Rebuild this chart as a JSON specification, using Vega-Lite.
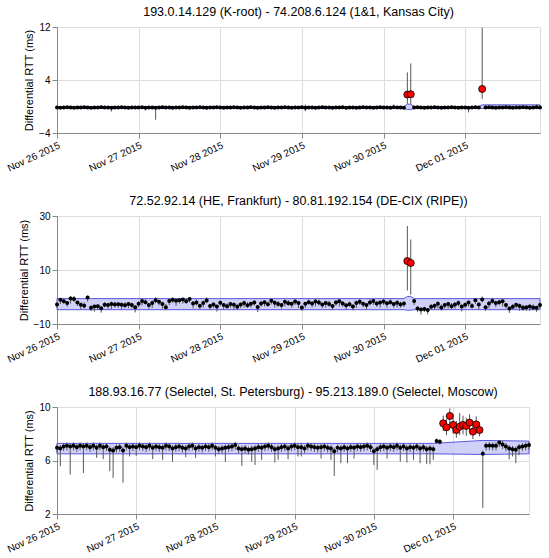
{
"datasets":{
"a1":[
{"t":"2015-11-30T07:00:00","m":1.8},
{"t":"2015-11-30T08:00:00","m":1.85},
{"t":"2015-12-01T05:00:00","m":2.65}],
"a2":[
{"t":"2015-11-30T07:00:00","m":13.3},
{"t":"2015-11-30T08:00:00","m":12.6}],
"a3":[
{"t":"2015-11-30T21:00:00","m":8.78},
{"t":"2015-11-30T22:00:00","m":8.48},
{"t":"2015-11-30T23:00:00","m":9.33},
{"t":"2015-12-01T00:00:00","m":8.66},
{"t":"2015-12-01T01:00:00","m":8.28},
{"t":"2015-12-01T02:00:00","m":8.53},
{"t":"2015-12-01T03:00:00","m":8.66},
{"t":"2015-12-01T04:00:00","m":8.58},
{"t":"2015-12-01T05:00:00","m":8.83},
{"t":"2015-12-01T06:00:00","m":8.16},
{"t":"2015-12-01T07:00:00","m":8.7},
{"t":"2015-12-01T08:00:00","m":8.28}],
"b1":[
{"t":"2015-11-26T00:00:00","lo":-0.3,"hi":0.0},
{"t":"2015-11-30T06:00:00","lo":-0.3,"hi":0.0},
{"t":"2015-11-30T07:00:00","lo":-0.45,"hi":0.35},
{"t":"2015-11-30T08:00:00","lo":-0.45,"hi":0.35},
{"t":"2015-11-30T09:00:00","lo":-0.3,"hi":0.0},
{"t":"2015-12-01T04:00:00","lo":-0.3,"hi":0.0},
{"t":"2015-12-01T05:00:00","lo":-0.3,"hi":0.25},
{"t":"2015-12-01T22:00:00","lo":-0.3,"hi":0.25}],
"b2":[
{"t":"2015-11-26T00:00:00","lo":-4.7,"hi":-0.6},
{"t":"2015-11-30T06:00:00","lo":-4.7,"hi":-0.6},
{"t":"2015-11-30T07:00:00","lo":-4.9,"hi":0.2},
{"t":"2015-11-30T08:00:00","lo":-4.9,"hi":0.2},
{"t":"2015-11-30T09:00:00","lo":-4.7,"hi":-0.6},
{"t":"2015-12-01T22:00:00","lo":-4.7,"hi":-0.6}],
"b3":[
{"t":"2015-11-26T00:00:00","lo":6.5,"hi":7.28},
{"t":"2015-11-30T18:00:00","lo":6.5,"hi":7.28},
{"t":"2015-12-01T09:00:00","lo":6.45,"hi":7.5},
{"t":"2015-12-01T23:00:00","lo":6.5,"hi":7.45}],
"d1":[
{"t":"2015-11-26T00:00:00","m":-0.15,"l":-0.3,"h":0},
{"t":"2015-11-26T01:00:00","m":-0.2,"l":-0.35,"h":-0.05},
{"t":"2015-11-26T02:00:00","m":-0.15,"l":-0.3,"h":0},
{"t":"2015-11-26T03:00:00","m":-0.1,"l":-0.25,"h":0.05},
{"t":"2015-11-26T04:00:00","m":-0.15,"l":-0.3,"h":0},
{"t":"2015-11-26T05:00:00","m":-0.2,"l":-0.35,"h":-0.05},
{"t":"2015-11-26T06:00:00","m":-0.15,"l":-0.3,"h":0},
{"t":"2015-11-26T07:00:00","m":-0.15,"l":-0.3,"h":0},
{"t":"2015-11-26T08:00:00","m":-0.1,"l":-0.25,"h":0.05},
{"t":"2015-11-26T09:00:00","m":-0.15,"l":-0.3,"h":0},
{"t":"2015-11-26T10:00:00","m":-0.2,"l":-0.35,"h":-0.05},
{"t":"2015-11-26T11:00:00","m":-0.15,"l":-0.3,"h":0},
{"t":"2015-11-26T12:00:00","m":-0.15,"l":-0.3,"h":0},
{"t":"2015-11-26T13:00:00","m":-0.1,"l":-0.25,"h":0.05},
{"t":"2015-11-26T14:00:00","m":-0.15,"l":-0.3,"h":0},
{"t":"2015-11-26T15:00:00","m":-0.15,"l":-0.3,"h":0},
{"t":"2015-11-26T16:00:00","m":-0.2,"l":-0.75,"h":-0.05},
{"t":"2015-11-26T17:00:00","m":-0.15,"l":-0.3,"h":0},
{"t":"2015-11-26T18:00:00","m":-0.15,"l":-0.3,"h":0},
{"t":"2015-11-26T19:00:00","m":-0.1,"l":-0.25,"h":0.05},
{"t":"2015-11-26T20:00:00","m":-0.15,"l":-0.3,"h":0},
{"t":"2015-11-26T21:00:00","m":-0.2,"l":-0.35,"h":-0.05},
{"t":"2015-11-26T22:00:00","m":-0.15,"l":-0.3,"h":0},
{"t":"2015-11-26T23:00:00","m":-0.15,"l":-0.3,"h":0},
{"t":"2015-11-27T00:00:00","m":-0.15,"l":-0.3,"h":0},
{"t":"2015-11-27T01:00:00","m":-0.1,"l":-0.25,"h":0.05},
{"t":"2015-11-27T02:00:00","m":-0.2,"l":-0.6,"h":-0.05},
{"t":"2015-11-27T03:00:00","m":-0.15,"l":-0.3,"h":0},
{"t":"2015-11-27T04:00:00","m":-0.15,"l":-0.3,"h":0},
{"t":"2015-11-27T05:00:00","m":-0.2,"l":-2.0,"h":-0.05},
{"t":"2015-11-27T06:00:00","m":-0.15,"l":-0.3,"h":0},
{"t":"2015-11-27T07:00:00","m":-0.1,"l":-0.25,"h":0.05},
{"t":"2015-11-27T08:00:00","m":-0.15,"l":-0.3,"h":0},
{"t":"2015-11-27T09:00:00","m":-0.15,"l":-0.3,"h":0},
{"t":"2015-11-27T10:00:00","m":-0.2,"l":-0.35,"h":-0.05},
{"t":"2015-11-27T11:00:00","m":-0.15,"l":-0.3,"h":0},
{"t":"2015-11-27T12:00:00","m":-0.15,"l":-0.3,"h":0},
{"t":"2015-11-27T13:00:00","m":-0.1,"l":-0.25,"h":0.05},
{"t":"2015-11-27T14:00:00","m":-0.15,"l":-0.3,"h":0},
{"t":"2015-11-27T15:00:00","m":-0.2,"l":-0.35,"h":-0.05},
{"t":"2015-11-27T16:00:00","m":-0.15,"l":-0.3,"h":0},
{"t":"2015-11-27T17:00:00","m":-0.15,"l":-0.3,"h":0},
{"t":"2015-11-27T18:00:00","m":-0.1,"l":-0.25,"h":0.05},
{"t":"2015-11-27T19:00:00","m":-0.15,"l":-0.3,"h":0},
{"t":"2015-11-27T20:00:00","m":-0.2,"l":-0.5,"h":-0.05},
{"t":"2015-11-27T21:00:00","m":-0.15,"l":-0.3,"h":0},
{"t":"2015-11-27T22:00:00","m":-0.15,"l":-0.3,"h":0},
{"t":"2015-11-27T23:00:00","m":-0.1,"l":-0.25,"h":0.05},
{"t":"2015-11-28T00:00:00","m":-0.15,"l":-0.3,"h":0},
{"t":"2015-11-28T01:00:00","m":-0.2,"l":-0.35,"h":-0.05},
{"t":"2015-11-28T02:00:00","m":-0.15,"l":-0.3,"h":0},
{"t":"2015-11-28T03:00:00","m":-0.15,"l":-0.3,"h":0},
{"t":"2015-11-28T04:00:00","m":-0.1,"l":-0.25,"h":0.05},
{"t":"2015-11-28T05:00:00","m":-0.15,"l":-0.3,"h":0},
{"t":"2015-11-28T06:00:00","m":-0.2,"l":-0.35,"h":-0.05},
{"t":"2015-11-28T07:00:00","m":-0.15,"l":-0.3,"h":0},
{"t":"2015-11-28T08:00:00","m":-0.15,"l":-0.3,"h":0},
{"t":"2015-11-28T09:00:00","m":-0.1,"l":-0.25,"h":0.05},
{"t":"2015-11-28T10:00:00","m":-0.15,"l":-0.3,"h":0},
{"t":"2015-11-28T11:00:00","m":-0.2,"l":-0.35,"h":-0.05},
{"t":"2015-11-28T12:00:00","m":-0.15,"l":-0.3,"h":0},
{"t":"2015-11-28T13:00:00","m":-0.15,"l":-0.3,"h":0},
{"t":"2015-11-28T14:00:00","m":-0.1,"l":-0.25,"h":0.05},
{"t":"2015-11-28T15:00:00","m":-0.15,"l":-0.3,"h":0},
{"t":"2015-11-28T16:00:00","m":-0.2,"l":-0.35,"h":-0.05},
{"t":"2015-11-28T17:00:00","m":-0.15,"l":-0.3,"h":0},
{"t":"2015-11-28T18:00:00","m":-0.15,"l":-0.3,"h":0},
{"t":"2015-11-28T19:00:00","m":-0.1,"l":-0.25,"h":0.05},
{"t":"2015-11-28T20:00:00","m":-0.15,"l":-0.3,"h":0},
{"t":"2015-11-28T21:00:00","m":-0.2,"l":-0.35,"h":-0.05},
{"t":"2015-11-28T22:00:00","m":-0.15,"l":-0.3,"h":0},
{"t":"2015-11-28T23:00:00","m":-0.15,"l":-0.3,"h":0},
{"t":"2015-11-29T00:00:00","m":-0.1,"l":-0.25,"h":0.05},
{"t":"2015-11-29T01:00:00","m":-0.2,"l":-0.7,"h":0.3},
{"t":"2015-11-29T02:00:00","m":-0.15,"l":-0.3,"h":0},
{"t":"2015-11-29T03:00:00","m":-0.15,"l":-0.3,"h":0},
{"t":"2015-11-29T04:00:00","m":-0.2,"l":-0.35,"h":-0.05},
{"t":"2015-11-29T05:00:00","m":-0.15,"l":-0.3,"h":0},
{"t":"2015-11-29T06:00:00","m":-0.1,"l":-0.25,"h":0.05},
{"t":"2015-11-29T07:00:00","m":-0.15,"l":-0.3,"h":0},
{"t":"2015-11-29T08:00:00","m":-0.15,"l":-0.3,"h":0},
{"t":"2015-11-29T09:00:00","m":-0.2,"l":-0.35,"h":-0.05},
{"t":"2015-11-29T10:00:00","m":-0.15,"l":-0.3,"h":0},
{"t":"2015-11-29T11:00:00","m":-0.15,"l":-0.3,"h":0},
{"t":"2015-11-29T12:00:00","m":-0.1,"l":-0.25,"h":0.05},
{"t":"2015-11-29T13:00:00","m":-0.2,"l":-0.5,"h":-0.05},
{"t":"2015-11-29T14:00:00","m":-0.15,"l":-0.3,"h":0},
{"t":"2015-11-29T15:00:00","m":-0.15,"l":-0.3,"h":0},
{"t":"2015-11-29T16:00:00","m":-0.2,"l":-0.35,"h":-0.05},
{"t":"2015-11-29T17:00:00","m":-0.15,"l":-0.3,"h":0},
{"t":"2015-11-29T18:00:00","m":-0.1,"l":-0.25,"h":0.05},
{"t":"2015-11-29T19:00:00","m":-0.15,"l":-0.3,"h":0},
{"t":"2015-11-29T20:00:00","m":-0.15,"l":-0.3,"h":0},
{"t":"2015-11-29T21:00:00","m":-0.2,"l":-0.35,"h":-0.05},
{"t":"2015-11-29T22:00:00","m":-0.15,"l":-0.3,"h":0},
{"t":"2015-11-29T23:00:00","m":-0.1,"l":-0.25,"h":0.05},
{"t":"2015-11-30T00:00:00","m":-0.15,"l":-0.3,"h":0},
{"t":"2015-11-30T01:00:00","m":-0.15,"l":-0.3,"h":0},
{"t":"2015-11-30T02:00:00","m":-0.2,"l":-0.35,"h":-0.05},
{"t":"2015-11-30T03:00:00","m":-0.1,"l":-0.25,"h":0.3},
{"t":"2015-11-30T04:00:00","m":-0.15,"l":-0.3,"h":0},
{"t":"2015-11-30T05:00:00","m":-0.15,"l":-0.3,"h":0},
{"t":"2015-11-30T06:00:00","m":-0.2,"l":-0.35,"h":-0.05},
{"t":"2015-11-30T07:00:00","m":1.8,"l":0.4,"h":5.15},
{"t":"2015-11-30T08:00:00","m":1.85,"l":0.4,"h":6.5},
{"t":"2015-11-30T09:00:00","m":-0.15,"l":-0.3,"h":0},
{"t":"2015-11-30T10:00:00","m":-0.1,"l":-0.25,"h":0.05},
{"t":"2015-11-30T11:00:00","m":-0.15,"l":-0.3,"h":0},
{"t":"2015-11-30T12:00:00","m":-0.2,"l":-0.35,"h":-0.05},
{"t":"2015-11-30T13:00:00","m":-0.15,"l":-0.3,"h":0},
{"t":"2015-11-30T14:00:00","m":-0.15,"l":-0.3,"h":0},
{"t":"2015-11-30T15:00:00","m":-0.1,"l":-0.25,"h":0.05},
{"t":"2015-11-30T16:00:00","m":-0.15,"l":-0.3,"h":0},
{"t":"2015-11-30T17:00:00","m":-0.2,"l":-0.35,"h":-0.05},
{"t":"2015-11-30T18:00:00","m":-0.15,"l":-0.3,"h":0},
{"t":"2015-11-30T19:00:00","m":-0.15,"l":-0.3,"h":0},
{"t":"2015-11-30T20:00:00","m":-0.1,"l":-0.25,"h":0.05},
{"t":"2015-11-30T21:00:00","m":-0.15,"l":-0.3,"h":0},
{"t":"2015-11-30T22:00:00","m":-0.2,"l":-0.35,"h":-0.05},
{"t":"2015-11-30T23:00:00","m":-0.15,"l":-0.3,"h":0},
{"t":"2015-12-01T00:00:00","m":-0.15,"l":-0.3,"h":0},
{"t":"2015-12-01T01:00:00","m":-0.2,"l":-0.9,"h":-0.05},
{"t":"2015-12-01T02:00:00","m":-0.15,"l":-0.3,"h":0},
{"t":"2015-12-01T03:00:00","m":-0.1,"l":-0.25,"h":0.05},
{"t":"2015-12-01T04:00:00","m":-0.15,"l":-0.3,"h":0},
{"t":"2015-12-01T05:00:00","m":2.65,"l":1.15,"h":11.9},
{"t":"2015-12-01T06:00:00","m":-0.15,"l":-0.3,"h":0},
{"t":"2015-12-01T07:00:00","m":-0.1,"l":-0.25,"h":0.05},
{"t":"2015-12-01T08:00:00","m":-0.15,"l":-0.3,"h":0},
{"t":"2015-12-01T09:00:00","m":-0.2,"l":-0.35,"h":-0.05},
{"t":"2015-12-01T10:00:00","m":-0.15,"l":-0.3,"h":0},
{"t":"2015-12-01T11:00:00","m":-0.15,"l":-0.3,"h":0},
{"t":"2015-12-01T12:00:00","m":-0.1,"l":-0.25,"h":0.05},
{"t":"2015-12-01T13:00:00","m":-0.15,"l":-0.3,"h":0},
{"t":"2015-12-01T14:00:00","m":-0.2,"l":-0.35,"h":-0.05},
{"t":"2015-12-01T15:00:00","m":-0.15,"l":-0.3,"h":0},
{"t":"2015-12-01T16:00:00","m":-0.15,"l":-0.3,"h":0},
{"t":"2015-12-01T17:00:00","m":-0.1,"l":-0.25,"h":0.05},
{"t":"2015-12-01T18:00:00","m":-0.15,"l":-0.3,"h":0},
{"t":"2015-12-01T19:00:00","m":-0.2,"l":-0.35,"h":-0.05},
{"t":"2015-12-01T20:00:00","m":-0.15,"l":-0.3,"h":0},
{"t":"2015-12-01T21:00:00","m":-0.1,"l":-0.25,"h":0.3},
{"t":"2015-12-01T22:00:00","m":-0.15,"l":-0.3,"h":0}],
"d2":[
{"t":"2015-11-26T00:00:00","m":-2.8,"l":-4.0,"h":-2.0},
{"t":"2015-11-26T01:00:00","m":-1.0,"l":-2.6,"h":-0.4},
{"t":"2015-11-26T02:00:00","m":-1.6,"l":-2.5,"h":-0.6},
{"t":"2015-11-26T03:00:00","m":-2.2,"l":-3.6,"h":-1.5},
{"t":"2015-11-26T04:00:00","m":-0.6,"l":-2.4,"h":0.3},
{"t":"2015-11-26T05:00:00","m":-0.7,"l":-1.8,"h":0.4},
{"t":"2015-11-26T06:00:00","m":-2.0,"l":-3.3,"h":-1.4},
{"t":"2015-11-26T07:00:00","m":-2.9,"l":-4.6,"h":-2.1},
{"t":"2015-11-26T08:00:00","m":-3.2,"l":-4.2,"h":-2.0},
{"t":"2015-11-26T09:00:00","m":-0.2,"l":-1.7,"h":0.5},
{"t":"2015-11-26T10:00:00","m":-4.0,"l":-5.2,"h":-3.1},
{"t":"2015-11-26T11:00:00","m":-3.5,"l":-5.4,"h":-2.9},
{"t":"2015-11-26T12:00:00","m":-3.4,"l":-4.6,"h":-2.6},
{"t":"2015-11-26T13:00:00","m":-4.2,"l":-5.8,"h":-3.6},
{"t":"2015-11-26T14:00:00","m":-2.9,"l":-3.8,"h":-1.9},
{"t":"2015-11-26T15:00:00","m":-3.0,"l":-4.4,"h":-2.3},
{"t":"2015-11-26T16:00:00","m":-2.6,"l":-4.4,"h":-1.7},
{"t":"2015-11-26T17:00:00","m":-2.8,"l":-3.9,"h":-1.7},
{"t":"2015-11-26T18:00:00","m":-2.7,"l":-4.0,"h":-2.1},
{"t":"2015-11-26T19:00:00","m":-2.9,"l":-4.6,"h":-2.1},
{"t":"2015-11-26T20:00:00","m":-3.1,"l":-4.1,"h":-1.9},
{"t":"2015-11-26T21:00:00","m":-2.6,"l":-4.1,"h":-1.9},
{"t":"2015-11-26T22:00:00","m":-3.0,"l":-4.2,"h":-2.1},
{"t":"2015-11-26T23:00:00","m":-3.8,"l":-5.7,"h":-3.2},
{"t":"2015-11-27T00:00:00","m":-2.5,"l":-3.7,"h":-1.7},
{"t":"2015-11-27T01:00:00","m":-1.5,"l":-3.1,"h":-0.9},
{"t":"2015-11-27T02:00:00","m":-1.9,"l":-2.8,"h":-0.9},
{"t":"2015-11-27T03:00:00","m":-3.0,"l":-4.4,"h":-2.3},
{"t":"2015-11-27T04:00:00","m":-2.2,"l":-4.0,"h":-1.3},
{"t":"2015-11-27T05:00:00","m":-1.2,"l":-2.3,"h":-0.1},
{"t":"2015-11-27T06:00:00","m":-1.8,"l":-3.1,"h":-1.2},
{"t":"2015-11-27T07:00:00","m":-2.6,"l":-4.3,"h":-1.8},
{"t":"2015-11-27T08:00:00","m":-3.8,"l":-4.8,"h":-2.6},
{"t":"2015-11-27T09:00:00","m":-1.5,"l":-3.0,"h":-0.8},
{"t":"2015-11-27T10:00:00","m":-1.0,"l":-2.2,"h":-0.1},
{"t":"2015-11-27T11:00:00","m":-1.4,"l":-3.3,"h":-0.8},
{"t":"2015-11-27T12:00:00","m":-1.2,"l":-2.4,"h":-0.4},
{"t":"2015-11-27T13:00:00","m":-0.9,"l":-2.5,"h":-0.3},
{"t":"2015-11-27T14:00:00","m":-1.6,"l":-2.5,"h":-0.6},
{"t":"2015-11-27T15:00:00","m":-0.7,"l":-2.1,"h":0.0},
{"t":"2015-11-27T16:00:00","m":-2.4,"l":-4.2,"h":-1.5},
{"t":"2015-11-27T17:00:00","m":-2.0,"l":-3.1,"h":-0.9},
{"t":"2015-11-27T18:00:00","m":-3.2,"l":-4.5,"h":-2.6},
{"t":"2015-11-27T19:00:00","m":-2.2,"l":-3.9,"h":-1.4},
{"t":"2015-11-27T20:00:00","m":-1.3,"l":-2.3,"h":-0.1},
{"t":"2015-11-27T21:00:00","m":-3.3,"l":-4.8,"h":-2.6},
{"t":"2015-11-27T22:00:00","m":-2.8,"l":-4.0,"h":-1.9},
{"t":"2015-11-27T23:00:00","m":-3.5,"l":-5.4,"h":-2.9},
{"t":"2015-11-28T00:00:00","m":-2.1,"l":-3.3,"h":-1.3},
{"t":"2015-11-28T01:00:00","m":-3.0,"l":-4.6,"h":-2.4},
{"t":"2015-11-28T02:00:00","m":-3.4,"l":-4.3,"h":-2.4},
{"t":"2015-11-28T03:00:00","m":-2.6,"l":-4.0,"h":-1.9},
{"t":"2015-11-28T04:00:00","m":-2.9,"l":-4.7,"h":-2.0},
{"t":"2015-11-28T05:00:00","m":-3.6,"l":-4.7,"h":-2.5},
{"t":"2015-11-28T06:00:00","m":-2.8,"l":-4.1,"h":-2.2},
{"t":"2015-11-28T07:00:00","m":-2.2,"l":-3.9,"h":-1.4},
{"t":"2015-11-28T08:00:00","m":-3.1,"l":-4.1,"h":-1.9},
{"t":"2015-11-28T09:00:00","m":-2.5,"l":-4.0,"h":-1.8},
{"t":"2015-11-28T10:00:00","m":-2.0,"l":-3.2,"h":-1.1},
{"t":"2015-11-28T11:00:00","m":-3.7,"l":-5.6,"h":-3.1},
{"t":"2015-11-28T12:00:00","m":-2.4,"l":-3.6,"h":-1.6},
{"t":"2015-11-28T13:00:00","m":-1.9,"l":-3.5,"h":-1.3},
{"t":"2015-11-28T14:00:00","m":-2.7,"l":-3.6,"h":-1.7},
{"t":"2015-11-28T15:00:00","m":-1.4,"l":-2.8,"h":-0.7},
{"t":"2015-11-28T16:00:00","m":-2.1,"l":-3.9,"h":-1.2},
{"t":"2015-11-28T17:00:00","m":-2.6,"l":-3.7,"h":-1.5},
{"t":"2015-11-28T18:00:00","m":-3.0,"l":-4.3,"h":-2.4},
{"t":"2015-11-28T19:00:00","m":-1.8,"l":-3.5,"h":-1.0},
{"t":"2015-11-28T20:00:00","m":-2.3,"l":-3.3,"h":-1.1},
{"t":"2015-11-28T21:00:00","m":-2.5,"l":-4.0,"h":-1.8},
{"t":"2015-11-28T22:00:00","m":-1.7,"l":-2.9,"h":-0.8},
{"t":"2015-11-28T23:00:00","m":-2.2,"l":-4.1,"h":-1.6},
{"t":"2015-11-29T00:00:00","m":-3.9,"l":-5.1,"h":-3.1},
{"t":"2015-11-29T01:00:00","m":-2.5,"l":-4.1,"h":-1.9},
{"t":"2015-11-29T02:00:00","m":-1.9,"l":-2.8,"h":-0.9},
{"t":"2015-11-29T03:00:00","m":-2.4,"l":-3.8,"h":-1.7},
{"t":"2015-11-29T04:00:00","m":-1.7,"l":-3.5,"h":-0.8},
{"t":"2015-11-29T05:00:00","m":-2.0,"l":-3.1,"h":-0.9},
{"t":"2015-11-29T06:00:00","m":-2.8,"l":-4.1,"h":-2.2},
{"t":"2015-11-29T07:00:00","m":-2.2,"l":-3.9,"h":-1.4},
{"t":"2015-11-29T08:00:00","m":-2.6,"l":-3.6,"h":-1.4},
{"t":"2015-11-29T09:00:00","m":-3.3,"l":-4.8,"h":-2.6},
{"t":"2015-11-29T10:00:00","m":-2.0,"l":-3.2,"h":-1.1},
{"t":"2015-11-29T11:00:00","m":-1.6,"l":-3.5,"h":-1.0},
{"t":"2015-11-29T12:00:00","m":-2.4,"l":-3.6,"h":-1.6},
{"t":"2015-11-29T13:00:00","m":-3.1,"l":-4.7,"h":-2.5},
{"t":"2015-11-29T14:00:00","m":-2.7,"l":-3.6,"h":-1.7},
{"t":"2015-11-29T15:00:00","m":-3.5,"l":-4.9,"h":-2.8},
{"t":"2015-11-29T16:00:00","m":-2.2,"l":-4.0,"h":-1.3},
{"t":"2015-11-29T17:00:00","m":-1.8,"l":-2.9,"h":-0.7},
{"t":"2015-11-29T18:00:00","m":-2.5,"l":-3.8,"h":-1.9},
{"t":"2015-11-29T19:00:00","m":-3.0,"l":-4.7,"h":-2.2},
{"t":"2015-11-29T20:00:00","m":-2.0,"l":-3.0,"h":-0.8},
{"t":"2015-11-29T21:00:00","m":-1.5,"l":-3.0,"h":-0.8},
{"t":"2015-11-29T22:00:00","m":-2.4,"l":-3.6,"h":-1.5},
{"t":"2015-11-29T23:00:00","m":-2.0,"l":-3.9,"h":-1.4},
{"t":"2015-11-30T00:00:00","m":-1.7,"l":-2.9,"h":-0.9},
{"t":"2015-11-30T01:00:00","m":-2.3,"l":-3.9,"h":-1.7},
{"t":"2015-11-30T02:00:00","m":-1.9,"l":-2.8,"h":-0.9},
{"t":"2015-11-30T03:00:00","m":-2.6,"l":-4.0,"h":-1.9},
{"t":"2015-11-30T04:00:00","m":-2.1,"l":-3.9,"h":-1.2},
{"t":"2015-11-30T05:00:00","m":-2.8,"l":-3.9,"h":-1.7},
{"t":"2015-11-30T06:00:00","m":-2.4,"l":-3.7,"h":-1.8},
{"t":"2015-11-30T07:00:00","m":13.3,"l":2.4,"h":26.3},
{"t":"2015-11-30T08:00:00","m":12.6,"l":0.9,"h":21.3},
{"t":"2015-11-30T09:00:00","m":-1.5,"l":-3.0,"h":-0.8},
{"t":"2015-11-30T10:00:00","m":-4.3,"l":-5.5,"h":-3.4},
{"t":"2015-11-30T11:00:00","m":-4.6,"l":-6.5,"h":-4.0},
{"t":"2015-11-30T12:00:00","m":-4.4,"l":-5.6,"h":-3.6},
{"t":"2015-11-30T13:00:00","m":-4.8,"l":-6.4,"h":-4.2},
{"t":"2015-11-30T14:00:00","m":-3.6,"l":-4.5,"h":-2.6},
{"t":"2015-11-30T15:00:00","m":-3.2,"l":-4.6,"h":-2.5},
{"t":"2015-11-30T16:00:00","m":-2.5,"l":-4.3,"h":-1.6},
{"t":"2015-11-30T17:00:00","m":-3.9,"l":-5.0,"h":-2.8},
{"t":"2015-11-30T18:00:00","m":-3.0,"l":-4.3,"h":-2.4},
{"t":"2015-11-30T19:00:00","m":-2.6,"l":-4.3,"h":-1.8},
{"t":"2015-11-30T20:00:00","m":-3.4,"l":-4.4,"h":-2.2},
{"t":"2015-11-30T21:00:00","m":-2.8,"l":-4.3,"h":-2.1},
{"t":"2015-11-30T22:00:00","m":-2.2,"l":-3.4,"h":-1.3},
{"t":"2015-11-30T23:00:00","m":-3.5,"l":-5.4,"h":-2.9},
{"t":"2015-12-01T00:00:00","m":-2.9,"l":-4.1,"h":-2.1},
{"t":"2015-12-01T01:00:00","m":-2.0,"l":-3.6,"h":-1.4},
{"t":"2015-12-01T02:00:00","m":-3.3,"l":-4.2,"h":-2.3},
{"t":"2015-12-01T03:00:00","m":-1.2,"l":-2.6,"h":-0.5},
{"t":"2015-12-01T04:00:00","m":-2.8,"l":-4.6,"h":-1.9},
{"t":"2015-12-01T05:00:00","m":-0.9,"l":-2.0,"h":0.2},
{"t":"2015-12-01T06:00:00","m":-3.8,"l":-5.1,"h":-3.2},
{"t":"2015-12-01T07:00:00","m":-2.4,"l":-4.1,"h":-1.6},
{"t":"2015-12-01T08:00:00","m":-1.5,"l":-2.5,"h":-0.3},
{"t":"2015-12-01T09:00:00","m":-2.2,"l":-3.7,"h":-1.5},
{"t":"2015-12-01T10:00:00","m":-1.9,"l":-3.1,"h":-1.0},
{"t":"2015-12-01T11:00:00","m":-1.6,"l":-3.5,"h":-1.0},
{"t":"2015-12-01T12:00:00","m":-3.0,"l":-4.2,"h":-2.2},
{"t":"2015-12-01T13:00:00","m":-4.3,"l":-5.9,"h":-3.7},
{"t":"2015-12-01T14:00:00","m":-3.6,"l":-4.5,"h":-2.6},
{"t":"2015-12-01T15:00:00","m":-2.9,"l":-4.3,"h":-2.2},
{"t":"2015-12-01T16:00:00","m":-3.3,"l":-5.1,"h":-2.4},
{"t":"2015-12-01T17:00:00","m":-4.0,"l":-5.1,"h":-2.9},
{"t":"2015-12-01T18:00:00","m":-3.8,"l":-5.1,"h":-3.2},
{"t":"2015-12-01T19:00:00","m":-3.5,"l":-5.2,"h":-2.7},
{"t":"2015-12-01T20:00:00","m":-3.9,"l":-4.9,"h":-2.7},
{"t":"2015-12-01T21:00:00","m":-4.0,"l":-5.5,"h":-3.3},
{"t":"2015-12-01T22:00:00","m":-3.0,"l":-4.2,"h":-2.1}],
"d3":[
{"t":"2015-11-26T00:00:00","m":6.95,"l":6.6,"h":7.2},
{"t":"2015-11-26T01:00:00","m":6.9,"l":5.57,"h":7.15},
{"t":"2015-11-26T02:00:00","m":7.05,"l":6.7,"h":7.3},
{"t":"2015-11-26T03:00:00","m":7.1,"l":6.75,"h":7.35},
{"t":"2015-11-26T04:00:00","m":7.05,"l":4.95,"h":7.3},
{"t":"2015-11-26T05:00:00","m":7.1,"l":6.75,"h":7.35},
{"t":"2015-11-26T06:00:00","m":7.0,"l":6.65,"h":7.25},
{"t":"2015-11-26T07:00:00","m":7.1,"l":6.75,"h":7.35},
{"t":"2015-11-26T08:00:00","m":7.05,"l":5.07,"h":7.3},
{"t":"2015-11-26T09:00:00","m":7.1,"l":6.75,"h":7.35},
{"t":"2015-11-26T10:00:00","m":7.0,"l":6.65,"h":7.25},
{"t":"2015-11-26T11:00:00","m":7.1,"l":6.75,"h":7.35},
{"t":"2015-11-26T12:00:00","m":6.95,"l":6.2,"h":7.2},
{"t":"2015-11-26T13:00:00","m":7.1,"l":6.75,"h":7.35},
{"t":"2015-11-26T14:00:00","m":7.0,"l":6.1,"h":7.25},
{"t":"2015-11-26T15:00:00","m":7.05,"l":6.7,"h":7.3},
{"t":"2015-11-26T16:00:00","m":6.8,"l":5.2,"h":7.05},
{"t":"2015-11-26T17:00:00","m":6.75,"l":4.7,"h":7.0},
{"t":"2015-11-26T18:00:00","m":6.95,"l":6.6,"h":7.2},
{"t":"2015-11-26T19:00:00","m":7.0,"l":6.65,"h":7.25},
{"t":"2015-11-26T20:00:00","m":6.75,"l":4.33,"h":7.0},
{"t":"2015-11-26T21:00:00","m":7.1,"l":6.75,"h":7.35},
{"t":"2015-11-26T22:00:00","m":7.0,"l":6.3,"h":7.25},
{"t":"2015-11-26T23:00:00","m":7.05,"l":6.7,"h":7.3},
{"t":"2015-11-27T00:00:00","m":7.0,"l":6.35,"h":7.25},
{"t":"2015-11-27T01:00:00","m":7.1,"l":6.75,"h":7.35},
{"t":"2015-11-27T02:00:00","m":7.05,"l":6.7,"h":7.3},
{"t":"2015-11-27T03:00:00","m":7.0,"l":6.65,"h":7.25},
{"t":"2015-11-27T04:00:00","m":7.1,"l":6.75,"h":7.35},
{"t":"2015-11-27T05:00:00","m":6.95,"l":6.1,"h":7.2},
{"t":"2015-11-27T06:00:00","m":7.05,"l":6.7,"h":7.3},
{"t":"2015-11-27T07:00:00","m":7.0,"l":6.65,"h":7.25},
{"t":"2015-11-27T08:00:00","m":6.95,"l":6.05,"h":7.2},
{"t":"2015-11-27T09:00:00","m":7.1,"l":6.75,"h":7.35},
{"t":"2015-11-27T10:00:00","m":7.05,"l":6.7,"h":7.3},
{"t":"2015-11-27T11:00:00","m":6.9,"l":5.9,"h":7.15},
{"t":"2015-11-27T12:00:00","m":7.0,"l":6.65,"h":7.25},
{"t":"2015-11-27T13:00:00","m":7.05,"l":6.7,"h":7.3},
{"t":"2015-11-27T14:00:00","m":6.95,"l":6.6,"h":7.2},
{"t":"2015-11-27T15:00:00","m":6.9,"l":6.25,"h":7.15},
{"t":"2015-11-27T16:00:00","m":7.05,"l":6.7,"h":7.3},
{"t":"2015-11-27T17:00:00","m":7.1,"l":6.75,"h":7.35},
{"t":"2015-11-27T18:00:00","m":6.9,"l":6.2,"h":7.15},
{"t":"2015-11-27T19:00:00","m":7.0,"l":6.65,"h":7.25},
{"t":"2015-11-27T20:00:00","m":6.95,"l":6.6,"h":7.2},
{"t":"2015-11-27T21:00:00","m":7.05,"l":6.7,"h":7.3},
{"t":"2015-11-27T22:00:00","m":7.0,"l":6.65,"h":7.25},
{"t":"2015-11-27T23:00:00","m":7.1,"l":6.75,"h":7.35},
{"t":"2015-11-28T00:00:00","m":6.95,"l":6.3,"h":7.2},
{"t":"2015-11-28T01:00:00","m":6.85,"l":6.5,"h":7.1},
{"t":"2015-11-28T02:00:00","m":6.9,"l":6.55,"h":7.15},
{"t":"2015-11-28T03:00:00","m":6.95,"l":5.9,"h":7.2},
{"t":"2015-11-28T04:00:00","m":7.0,"l":6.65,"h":7.25},
{"t":"2015-11-28T05:00:00","m":7.05,"l":6.7,"h":7.3},
{"t":"2015-11-28T06:00:00","m":7.15,"l":6.8,"h":7.4},
{"t":"2015-11-28T07:00:00","m":6.9,"l":6.55,"h":7.15},
{"t":"2015-11-28T08:00:00","m":6.85,"l":5.6,"h":7.1},
{"t":"2015-11-28T09:00:00","m":6.9,"l":6.55,"h":7.15},
{"t":"2015-11-28T10:00:00","m":6.8,"l":6.45,"h":7.05},
{"t":"2015-11-28T11:00:00","m":6.85,"l":5.9,"h":7.1},
{"t":"2015-11-28T12:00:00","m":6.9,"l":5.67,"h":7.15},
{"t":"2015-11-28T13:00:00","m":7.0,"l":6.65,"h":7.25},
{"t":"2015-11-28T14:00:00","m":6.95,"l":6.05,"h":7.2},
{"t":"2015-11-28T15:00:00","m":7.05,"l":6.7,"h":7.3},
{"t":"2015-11-28T16:00:00","m":7.1,"l":6.75,"h":7.35},
{"t":"2015-11-28T17:00:00","m":7.0,"l":6.65,"h":7.25},
{"t":"2015-11-28T18:00:00","m":6.85,"l":5.85,"h":7.1},
{"t":"2015-11-28T19:00:00","m":6.9,"l":6.05,"h":7.15},
{"t":"2015-11-28T20:00:00","m":7.0,"l":6.65,"h":7.25},
{"t":"2015-11-28T21:00:00","m":7.05,"l":6.7,"h":7.3},
{"t":"2015-11-28T22:00:00","m":6.9,"l":6.1,"h":7.15},
{"t":"2015-11-28T23:00:00","m":7.05,"l":6.7,"h":7.3},
{"t":"2015-11-29T00:00:00","m":7.1,"l":6.75,"h":7.35},
{"t":"2015-11-29T01:00:00","m":7.0,"l":6.3,"h":7.25},
{"t":"2015-11-29T02:00:00","m":7.0,"l":6.3,"h":7.25},
{"t":"2015-11-29T03:00:00","m":6.9,"l":6.55,"h":7.15},
{"t":"2015-11-29T04:00:00","m":7.1,"l":6.75,"h":7.35},
{"t":"2015-11-29T05:00:00","m":7.05,"l":6.7,"h":7.3},
{"t":"2015-11-29T06:00:00","m":7.0,"l":6.65,"h":7.25},
{"t":"2015-11-29T07:00:00","m":6.95,"l":6.6,"h":7.2},
{"t":"2015-11-29T08:00:00","m":7.0,"l":6.15,"h":7.25},
{"t":"2015-11-29T09:00:00","m":7.05,"l":6.7,"h":7.3},
{"t":"2015-11-29T10:00:00","m":6.95,"l":6.6,"h":7.2},
{"t":"2015-11-29T11:00:00","m":6.9,"l":6.05,"h":7.15},
{"t":"2015-11-29T12:00:00","m":6.7,"l":4.85,"h":6.95},
{"t":"2015-11-29T13:00:00","m":6.95,"l":6.6,"h":7.2},
{"t":"2015-11-29T14:00:00","m":6.9,"l":5.8,"h":7.15},
{"t":"2015-11-29T15:00:00","m":7.0,"l":6.65,"h":7.25},
{"t":"2015-11-29T16:00:00","m":6.9,"l":5.8,"h":7.15},
{"t":"2015-11-29T17:00:00","m":7.0,"l":6.65,"h":7.25},
{"t":"2015-11-29T18:00:00","m":6.95,"l":6.15,"h":7.2},
{"t":"2015-11-29T19:00:00","m":7.05,"l":6.7,"h":7.3},
{"t":"2015-11-29T20:00:00","m":7.0,"l":6.65,"h":7.25},
{"t":"2015-11-29T21:00:00","m":7.05,"l":6.7,"h":7.3},
{"t":"2015-11-29T22:00:00","m":7.1,"l":6.75,"h":7.35},
{"t":"2015-11-29T23:00:00","m":7.0,"l":6.65,"h":7.25},
{"t":"2015-11-30T00:00:00","m":6.7,"l":5.67,"h":6.95},
{"t":"2015-11-30T01:00:00","m":6.85,"l":5.3,"h":7.1},
{"t":"2015-11-30T02:00:00","m":7.0,"l":6.65,"h":7.25},
{"t":"2015-11-30T03:00:00","m":7.05,"l":6.7,"h":7.3},
{"t":"2015-11-30T04:00:00","m":6.95,"l":6.15,"h":7.2},
{"t":"2015-11-30T05:00:00","m":7.05,"l":6.7,"h":7.3},
{"t":"2015-11-30T06:00:00","m":7.0,"l":6.65,"h":7.25},
{"t":"2015-11-30T07:00:00","m":7.1,"l":6.75,"h":7.35},
{"t":"2015-11-30T08:00:00","m":6.95,"l":5.9,"h":7.2},
{"t":"2015-11-30T09:00:00","m":7.05,"l":6.7,"h":7.3},
{"t":"2015-11-30T10:00:00","m":6.9,"l":5.85,"h":7.15},
{"t":"2015-11-30T11:00:00","m":7.0,"l":6.65,"h":7.25},
{"t":"2015-11-30T12:00:00","m":6.95,"l":6.05,"h":7.2},
{"t":"2015-11-30T13:00:00","m":7.05,"l":6.7,"h":7.3},
{"t":"2015-11-30T14:00:00","m":6.9,"l":5.8,"h":7.15},
{"t":"2015-11-30T15:00:00","m":7.0,"l":6.65,"h":7.25},
{"t":"2015-11-30T16:00:00","m":6.85,"l":5.75,"h":7.1},
{"t":"2015-11-30T17:00:00","m":6.9,"l":5.72,"h":7.15},
{"t":"2015-11-30T18:00:00","m":6.85,"l":6.05,"h":7.1},
{"t":"2015-11-30T19:00:00","m":7.45,"l":7.25,"h":7.65},
{"t":"2015-11-30T20:00:00","m":7.4,"l":7.2,"h":7.6},
{"t":"2015-11-30T21:00:00","m":8.78,"l":8.2,"h":9.35},
{"t":"2015-11-30T22:00:00","m":8.48,"l":7.9,"h":9.1},
{"t":"2015-11-30T23:00:00","m":9.33,"l":8.7,"h":9.9},
{"t":"2015-12-01T00:00:00","m":8.66,"l":8.0,"h":9.45},
{"t":"2015-12-01T01:00:00","m":8.28,"l":7.7,"h":8.95},
{"t":"2015-12-01T02:00:00","m":8.53,"l":7.9,"h":9.55},
{"t":"2015-12-01T03:00:00","m":8.66,"l":7.95,"h":9.35},
{"t":"2015-12-01T04:00:00","m":8.58,"l":7.85,"h":9.2},
{"t":"2015-12-01T05:00:00","m":8.83,"l":8.1,"h":9.45},
{"t":"2015-12-01T06:00:00","m":8.16,"l":7.6,"h":8.9},
{"t":"2015-12-01T07:00:00","m":8.7,"l":8.05,"h":9.3},
{"t":"2015-12-01T08:00:00","m":8.28,"l":7.8,"h":8.85},
{"t":"2015-12-01T09:00:00","m":6.5,"l":2.46,"h":6.75},
{"t":"2015-12-01T10:00:00","m":7.1,"l":6.75,"h":7.35},
{"t":"2015-12-01T11:00:00","m":7.12,"l":6.77,"h":7.37},
{"t":"2015-12-01T12:00:00","m":7.1,"l":6.75,"h":7.35},
{"t":"2015-12-01T13:00:00","m":7.1,"l":6.75,"h":7.35},
{"t":"2015-12-01T14:00:00","m":7.35,"l":7.0,"h":7.5},
{"t":"2015-12-01T15:00:00","m":7.2,"l":6.85,"h":7.45},
{"t":"2015-12-01T16:00:00","m":7.05,"l":6.7,"h":7.3},
{"t":"2015-12-01T17:00:00","m":6.9,"l":6.1,"h":7.15},
{"t":"2015-12-01T18:00:00","m":6.85,"l":6.3,"h":7.1},
{"t":"2015-12-01T19:00:00","m":6.8,"l":5.8,"h":7.05},
{"t":"2015-12-01T20:00:00","m":7.0,"l":6.4,"h":7.25},
{"t":"2015-12-01T21:00:00","m":7.05,"l":6.7,"h":7.3},
{"t":"2015-12-01T22:00:00","m":7.1,"l":6.75,"h":7.35},
{"t":"2015-12-01T23:00:00","m":7.15,"l":6.8,"h":7.4}]
},
"vconcat":[
{"width":483,"height":106,"title":{"text":"193.0.14.129 (K-root) - 74.208.6.124 (1&1, Kansas City)","fontWeight":"normal","fontSize":12.5},
"layer":[
{"data":{"name":"b1"},"mark":{"type":"area","color":"#c8c8f8","stroke":"#3c3cd8","strokeWidth":1,"opacity":0.85},
"encoding":{"x":{"field":"t","type":"temporal","axis":{"format":"%b %d %Y","labelAngle":-25,"title":null,"tickCount":6}},
"y":{"field":"lo","type":"quantitative","scale":{"domain":[-4,12],"nice":false,"zero":false},"axis":{"title":"Differential RTT (ms)","titleFontWeight":"normal","values":[-4,-2,0,2,4,6,8,10,12]}},
"y2":{"field":"hi"}}},
{"data":{"name":"d1"},"mark":{"type":"rule","color":"#555555","strokeWidth":1},"encoding":{"x":{"field":"t","type":"temporal"},"y":{"field":"l","type":"quantitative","title":"Differential RTT (ms)"},"y2":{"field":"h"}}},
{"data":{"name":"d1"},"mark":{"type":"circle","size":16,"color":"black","opacity":1},"encoding":{"x":{"field":"t","type":"temporal"},"y":{"field":"m","type":"quantitative","title":"Differential RTT (ms)"}}},
{"data":{"name":"a1"},"mark":{"type":"circle","size":50,"color":"red","stroke":"black","strokeWidth":0.8,"opacity":1},"encoding":{"x":{"field":"t","type":"temporal"},"y":{"field":"m","type":"quantitative","title":"Differential RTT (ms)"}}}
]},
{"width":483,"height":108,"title":{"text":"72.52.92.14 (HE, Frankfurt) - 80.81.192.154 (DE-CIX (RIPE))","fontWeight":"normal","fontSize":12.5},
"layer":[
{"data":{"name":"b2"},"mark":{"type":"area","color":"#c8c8f8","stroke":"#3c3cd8","strokeWidth":1,"opacity":0.85},
"encoding":{"x":{"field":"t","type":"temporal","axis":{"format":"%b %d %Y","labelAngle":-25,"title":null,"tickCount":6}},
"y":{"field":"lo","type":"quantitative","scale":{"domain":[-10,30],"nice":false,"zero":false},"axis":{"title":"Differential RTT (ms)","titleFontWeight":"normal","values":[-10,-5,0,5,10,15,20,25,30]}},
"y2":{"field":"hi"}}},
{"data":{"name":"d2"},"mark":{"type":"rule","color":"#555555","strokeWidth":1},"encoding":{"x":{"field":"t","type":"temporal"},"y":{"field":"l","type":"quantitative","title":"Differential RTT (ms)"},"y2":{"field":"h"}}},
{"data":{"name":"d2"},"mark":{"type":"circle","size":16,"color":"black","opacity":1},"encoding":{"x":{"field":"t","type":"temporal"},"y":{"field":"m","type":"quantitative","title":"Differential RTT (ms)"}}},
{"data":{"name":"a2"},"mark":{"type":"circle","size":50,"color":"red","stroke":"black","strokeWidth":0.8,"opacity":1},"encoding":{"x":{"field":"t","type":"temporal"},"y":{"field":"m","type":"quantitative","title":"Differential RTT (ms)"}}}
]},
{"width":472,"height":107,"title":{"text":"188.93.16.77 (Selectel, St. Petersburg) - 95.213.189.0 (Selectel, Moscow)","fontWeight":"normal","fontSize":12.5},
"layer":[
{"data":{"name":"b3"},"mark":{"type":"area","color":"#c8c8f8","stroke":"#3c3cd8","strokeWidth":1,"opacity":0.85},
"encoding":{"x":{"field":"t","type":"temporal","axis":{"format":"%b %d %Y","labelAngle":-25,"title":null,"tickCount":6}},
"y":{"field":"lo","type":"quantitative","scale":{"domain":[2,10],"nice":false,"zero":false},"axis":{"title":"Differential RTT (ms)","titleFontWeight":"normal","values":[2,3,4,5,6,7,8,9,10]}},
"y2":{"field":"hi"}}},
{"data":{"name":"d3"},"mark":{"type":"rule","color":"#555555","strokeWidth":1},"encoding":{"x":{"field":"t","type":"temporal"},"y":{"field":"l","type":"quantitative","title":"Differential RTT (ms)"},"y2":{"field":"h"}}},
{"data":{"name":"d3"},"mark":{"type":"circle","size":16,"color":"black","opacity":1},"encoding":{"x":{"field":"t","type":"temporal"},"y":{"field":"m","type":"quantitative","title":"Differential RTT (ms)"}}},
{"data":{"name":"a3"},"mark":{"type":"circle","size":50,"color":"red","stroke":"black","strokeWidth":0.8,"opacity":1},"encoding":{"x":{"field":"t","type":"temporal"},"y":{"field":"m","type":"quantitative","title":"Differential RTT (ms)"}}}
]}
]
}
